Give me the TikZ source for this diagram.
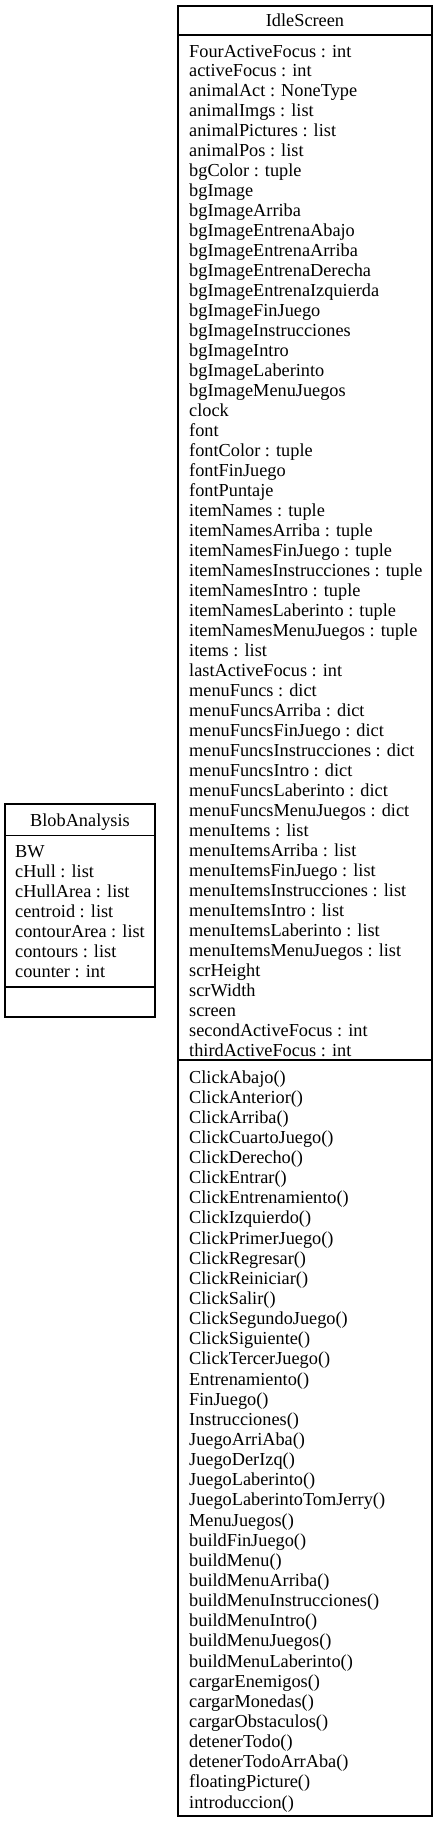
\documentclass[tikz,border=0pt]{standalone}
\usepackage{fontspec}
\setmainfont{Liberation Serif}
\usetikzlibrary{positioning}
\newcommand{\umlfont}{\fontsize{18.3pt}{20pt}\selectfont}

\tikzset{
  classframe/.style={draw=black, line width=1.2pt},
  classtitle/.style={inner sep=0pt, font=\umlfont, anchor=base},
  member/.style={inner sep=0pt, font=\umlfont, anchor=base west},
}

\begin{document}
\begin{tikzpicture}[x=1pt,y=-1pt]
\useasboundingbox (0,0) rectangle (437,1824);

% BlobAnalysis
\draw[classframe] (5,804) rectangle (155,1017);
\draw[classframe] (5,835.5) -- (155,835.5);
\draw[classframe] (5,987) -- (155,987);
\node[classtitle] (blob) at (80,826.5) {BlobAnalysis};
\foreach \txt [count=\i] in {BW, cHull : list, cHullArea : list, centroid : list,
    contourArea : list, contours : list, counter : int}
  \node[member] (blob-a\i) at (15,{857+20*(\i-1)}) {\txt};

% IdleScreen
\draw[classframe] (178,6) rectangle (432,1816);
\draw[classframe] (178,35) -- (432,35);
\draw[classframe] (178,1060) -- (432,1060);
\node[classtitle] (idle) at (305,26) {IdleScreen};
\foreach \txt [count=\i] in {FourActiveFocus : int, activeFocus : int,
    animalAct : NoneType, animalImgs : list, animalPictures : list,
    animalPos : list, bgColor : tuple, bgImage, bgImageArriba,
    bgImageEntrenaAbajo, bgImageEntrenaArriba, bgImageEntrenaDerecha,
    bgImageEntrenaIzquierda, bgImageFinJuego, bgImageInstrucciones,
    bgImageIntro, bgImageLaberinto, bgImageMenuJuegos, clock, font,
    fontColor : tuple, fontFinJuego, fontPuntaje, itemNames : tuple,
    itemNamesArriba : tuple, itemNamesFinJuego : tuple,
    itemNamesInstrucciones : tuple, itemNamesIntro : tuple,
    itemNamesLaberinto : tuple, itemNamesMenuJuegos : tuple, items : list,
    lastActiveFocus : int, menuFuncs : dict, menuFuncsArriba : dict,
    menuFuncsFinJuego : dict, menuFuncsInstrucciones : dict,
    menuFuncsIntro : dict, menuFuncsLaberinto : dict,
    menuFuncsMenuJuegos : dict, menuItems : list, menuItemsArriba : list,
    menuItemsFinJuego : list, menuItemsInstrucciones : list,
    menuItemsIntro : list, menuItemsLaberinto : list,
    menuItemsMenuJuegos : list, scrHeight, scrWidth, screen,
    secondActiveFocus : int, thirdActiveFocus : int}
  \node[member] (idle-a\i) at (189,{57+19.98*(\i-1)}) {\txt};
\foreach \txt [count=\i] in {ClickAbajo(), ClickAnterior(), ClickArriba(),
    ClickCuartoJuego(), ClickDerecho(), ClickEntrar(), ClickEntrenamiento(),
    ClickIzquierdo(), ClickPrimerJuego(), ClickRegresar(), ClickReiniciar(),
    ClickSalir(), ClickSegundoJuego(), ClickSiguiente(), ClickTercerJuego(),
    Entrenamiento(), FinJuego(), Instrucciones(), JuegoArriAba(),
    JuegoDerIzq(), JuegoLaberinto(), JuegoLaberintoTomJerry(), MenuJuegos(),
    buildFinJuego(), buildMenu(), buildMenuArriba(),
    buildMenuInstrucciones(), buildMenuIntro(), buildMenuJuegos(),
    buildMenuLaberinto(), cargarEnemigos(), cargarMonedas(),
    cargarObstaculos(), detenerTodo(), detenerTodoArrAba(),
    floatingPicture(), introduccion()}
  \node[member] (idle-m\i) at (189,{1083+20.14*(\i-1)}) {\txt};
\end{tikzpicture}
\end{document}
